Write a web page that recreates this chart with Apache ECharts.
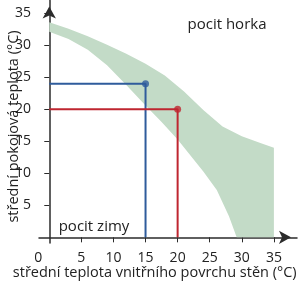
<!DOCTYPE html>
<html>
<head>
<meta charset="utf-8">
<script src="https://cdn.jsdelivr.net/npm/echarts@6/dist/echarts.min.js"></script>
<style>html,body{margin:0;padding:0;background:#fff}#c{width:300px;height:284px}</style>
</head>
<body>
<div id="c"></div>
<script>
// Comfort band: upper boundary (left to right) and lower boundary (right to left)
var upperX = [0, 3, 6, 9, 12, 15, 18, 21, 24, 27, 30, 33, 35];
var upperY = [33.6, 32.6, 31.4, 30.1, 28.7, 27.1, 25.3, 22.8, 19.9, 17.3, 15.8, 14.7, 14.0];
var lowerX = [35, 29.2, 28, 26.1, 24, 22, 20, 17.5, 15, 12, 9, 6, 3, 0];
var lowerY = [0, 0, 3.3, 7.4, 10.3, 12.8, 15.3, 18, 20.6, 23.8, 26.9, 29.3, 31, 32.1];
// Example points
var blueX = [0, 15, 15];
var blueY = [24, 24, 0];
var redX = [0, 20, 20];
var redY = [20, 20, 0];
// Ticks and labels
var xLabels = [0, 5, 10, 15, 20, 25, 30, 35];
var xTicks = [5, 10, 15, 20, 25, 30, 35];
var yLabels = [5, 10, 15, 20, 25, 30, 35];
var yTicks = [5, 10, 15, 20, 25, 30, 35];
var xTitle = 'střední teplota vnitřního povrchu stěn (°C)';
var yTitle = 'střední pokojová teplota (°C)';
var zoneHot = 'pocit horka';
var zoneCold = 'pocit zimy';
var zoneComfort = 'pocit\npohody';

var X_MIN = -1.6, X_MAX = 38.6, Y_MIN = -0.9, Y_MAX = 37;

function zip(a, b) { return a.map(function (v, i) { return [v, b[i]]; }); }
var band = zip(upperX, upperY).concat(zip(lowerX, lowerY));

var font = '"Open Sans", sans-serif';
var axisColor = '#2b2b2b';
var txt = '#222';

var chart = echarts.init(document.getElementById('c'), null, {renderer: 'canvas'});
chart.setOption({
  animation: false,
  grid: {left: 39, right: 3, top: 0.5, bottom: 40.9, containLabel: false,
    outerBoundsMode: 'none'},
  xAxis: {
    type: 'value', min: X_MIN, max: X_MAX,
    splitLine: {show: false},
    axisLine: {show: true, onZero: true, symbol: ['none', 'arrow'], symbolSize: [10, 12], symbolOffset: [0, -6],
      lineStyle: {color: axisColor, width: 1.5}},
    axisTick: {show: true, customValues: xTicks, length: 5, lineStyle: {color: axisColor, width: 1}},
    axisLabel: {customValues: xLabels, fontFamily: font, fontSize: 14, color: txt, margin: 8,
      formatter: function (v) { return v === 0 ? '{o|0}' : String(v); },
      rich: {o: {fontFamily: font, fontSize: 14, color: txt, padding: [0, 22, 0, 0]}}}
  },
  yAxis: {
    type: 'value', min: Y_MIN, max: Y_MAX,
    splitLine: {show: false},
    axisLine: {show: true, onZero: true, lineStyle: {color: axisColor, width: 1.5}},
    axisTick: {show: true, customValues: yTicks, length: 5, lineStyle: {color: axisColor, width: 1}},
    axisLabel: {customValues: yLabels, fontFamily: font, fontSize: 14, color: txt, margin: 8}
  },
  series: [
    {
      type: 'custom', z: 1, silent: true,
      data: [[0, 0]],
      renderItem: function (params, api) {
        return {type: 'polygon', shape: {points: band.map(function (p) { return api.coord(p); })},
          style: {fill: '#c3dbc7'}};
      }
    },
    {
      type: 'line', z: 3, data: zip(blueX, blueY), symbol: 'none',
      lineStyle: {color: '#2f5c9c', width: 2}
    },
    {
      type: 'line', z: 3, data: zip(redX, redY), symbol: 'none',
      lineStyle: {color: '#bf2630', width: 2}
    },
    {
      type: 'scatter', z: 4, data: [[blueX[1], blueY[1]]], symbolSize: 7,
      itemStyle: {color: '#2f5c9c'}
    },
    {
      type: 'scatter', z: 4, data: [[redX[1], redY[1]]], symbolSize: 7,
      itemStyle: {color: '#bf2630'}
    },
    {
      // arrowhead at the top of the y axis, placed at (0, Y_MAX) through the axis scales
      type: 'scatter', z: 10, silent: true, clip: false,
      data: [[0, Y_MAX]],
      symbol: 'arrow', symbolSize: [10, 12], symbolOffset: [0, 6],
      itemStyle: {color: axisColor, opacity: 1}
    }
  ],
  graphic: [
    {type: 'text', x: 154.7, y: 273, style: {text: xTitle, font: '14.5px ' + font, fill: txt, align: 'center', verticalAlign: 'middle'}},
    {type: 'text', x: 13.5, y: 126.5, rotation: Math.PI / 2,
      style: {text: yTitle, font: '14.5px ' + font, fill: txt, align: 'center', verticalAlign: 'middle'}},
    {type: 'text', x: 227, y: 25, style: {text: zoneHot, font: '15px ' + font, fill: txt, align: 'center', verticalAlign: 'middle'}},
    {type: 'text', x: 94, y: 227, style: {text: zoneCold, font: '15px ' + font, fill: txt, align: 'center', verticalAlign: 'middle'}},
    {type: 'text', x: 216, y: 145, style: {text: zoneComfort, font: '15px ' + font, fill: txt, align: 'left', verticalAlign: 'top', lineHeight: 19}}
  ]
});
</script>
</body>
</html>
